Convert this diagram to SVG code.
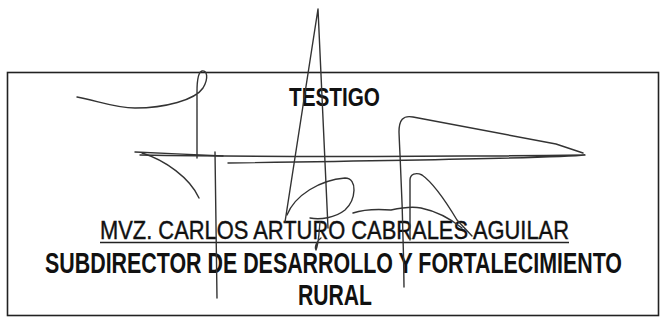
<svg xmlns="http://www.w3.org/2000/svg" width="660" height="320" viewBox="0 0 660 320">
<style>
.t{font-family:"Liberation Sans",Arial,sans-serif;fill:#111}
.b{font-weight:bold}
.sig{fill:none;stroke:#333;stroke-width:1.4;stroke-linecap:round;stroke-linejoin:round}
</style>
<rect width="660" height="320" fill="#fff"/>
<g id="frame"><rect x="7.5" y="72.5" width="651" height="243" fill="none" stroke="#222" stroke-width="1.6"/></g>
<g id="labels">
<text class="t b" x="289" y="106" font-size="26" textLength="91" lengthAdjust="spacingAndGlyphs">TESTIGO</text>
<text class="t" x="100" y="238.5" font-size="25" stroke="#111" stroke-width="0.4" textLength="469" lengthAdjust="spacingAndGlyphs">MVZ. CARLOS ARTURO CABRALES AGUILAR</text>
<line x1="100" y1="242.5" x2="569" y2="242.5" stroke="#222" stroke-width="1.5"/>
<text class="t b" x="45" y="273" font-size="29" textLength="577" lengthAdjust="spacingAndGlyphs">SUBDIRECTOR DE DESARROLLO Y FORTALECIMIENTO</text>
<text class="t b" x="298" y="305" font-size="29" textLength="74" lengthAdjust="spacingAndGlyphs">RURAL</text>
</g>
<g id="signature">
<path class="sig" d="M77,97 C95,100 115,108 135,108 C165,108 195,100 203,88 C209,78 207,70 202,71 C198,72 197,80 197,92 L197,158"/>
<path class="sig" stroke-width="2.2" d="M135,152 C160,153 200,155 223,156"/>
<path class="sig" d="M140,155 C250,157 400,157 585,155 C560,158 440,160 228,163"/>
<path class="sig" d="M583,153 L556,144 L413,117 C403,115 399,120 399,132 C400,160 403,200 404,287"/>
<path class="sig" d="M142,153 C165,160 190,178 199,198"/>
<path class="sig" d="M215,152 L217,298"/>
<path class="sig" d="M285,222 L318,9 L328,228"/>
<path class="sig" d="M287,215 C295,195 320,180 345,178 C358,178 356,200 345,210 C335,218 320,220 310,218"/>
<path class="sig" d="M353,213 C365,209 378,209 391,210 C400,208 412,206 421,208 C440,212 452,220 462,228"/>
<path class="sig" d="M410,240 L410,180 C410,174 416,172 422,175 C432,182 445,200 457,220 L472,236"/>
<path class="sig" d="M320,222 C319,232 319,242 316,250 C314,246 318,240 321,238"/>
</g>
</svg>
